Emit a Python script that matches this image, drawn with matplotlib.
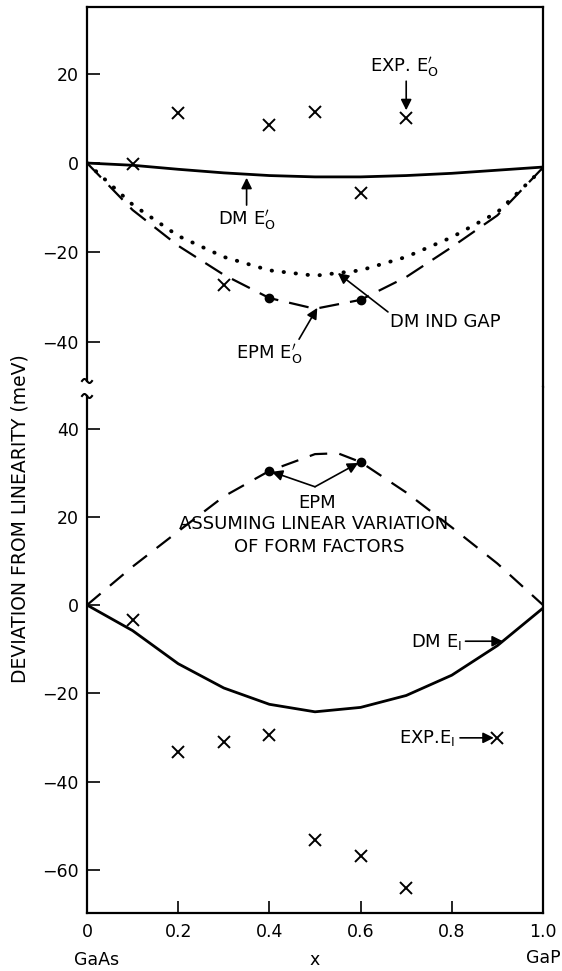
import matplotlib.pyplot as plt
import numpy as np

# composition x (GaAs -> GaP)
x = [0, 0.1, 0.2, 0.3, 0.4, 0.5, 0.6, 0.7, 0.8, 0.9, 1.0]

# upper panel: E0' gap deviations (meV)
dm_e0 = [0, -0.5, -1.4, -2.2, -2.8, -3.1, -3.1, -2.8, -2.3, -1.6, -0.9]
dm_ind_gap = [0, -9.3, -16.3, -21, -24, -25.2, -24, -21, -16.6, -11, -1.2]
epm_e0 = [0, -10.5, -18.5, -25, -30.2, -32.6, -30.6, -25.5, -18.8, -11.7, -1.0]
epm_e0_pts_x = [0.4, 0.6]
epm_e0_pts_y = [-30.2, -30.6]
exp_e0_x = [0.1, 0.2, 0.3, 0.4, 0.5, 0.6, 0.7]
exp_e0_y = [-0.3, 11.2, -27.3, 8.5, 11.4, -6.7, 10.0]

# lower panel: E1 deviations (meV)
dm_e1 = [0, -5.8, -13.3, -18.8, -22.5, -24.2, -23.2, -20.5, -15.9, -9.2, -0.7]
x_epm_lin = [0, 0.1, 0.2, 0.3, 0.4, 0.5, 0.55, 0.6, 0.7, 0.8, 0.9, 1.0]
epm_lin = [0, 8.7, 16.7, 24.6, 30.4, 34.2, 34.4, 32.4, 25.5, 17.6, 9.4, 0]
epm_lin_pts_x = [0.4, 0.6]
epm_lin_pts_y = [30.4, 32.4]
exp_e1_x = [0.1, 0.2, 0.3, 0.4, 0.5, 0.6, 0.7, 0.9]
exp_e1_y = [-3.4, -33.3, -31.1, -29.5, -53.2, -56.8, -64.1, -30.1]

plt.rcParams['font.family'] = 'DejaVu Sans'
fig = plt.figure(figsize=(5.62, 9.71), dpi=100)
ax1 = fig.add_axes([0.1548, 0.6014, 0.8114, 0.3914])
ax2 = fig.add_axes([0.1548, 0.0597, 0.8114, 0.5417])

for ax in (ax1, ax2):
    ax.set_xlim(0, 1.0)
    for s in ax.spines.values():
        s.set_linewidth(1.6)
    ax.tick_params(axis='y', direction='in', length=9, width=1.2, pad=6,
                   labelsize=12.5, right=False)
    ax.tick_params(axis='x', direction='in', length=9, width=1.2, pad=7,
                   labelsize=12.5, top=False)

ax1.set_ylim(-50.1, 34.9)
ax1.set_yticks([20, 0, -20, -40])
ax1.tick_params(axis='x', bottom=False, labelbottom=False)
ax1.spines['bottom'].set_visible(False)
ax1.spines['left'].set_bounds(-48.7, 34.9)

ax2.set_ylim(-69.8, 49.4)
ax2.set_yticks([40, 20, 0, -20, -40, -60])
ax2.set_xticks([0, 0.2, 0.4, 0.6, 0.8, 1.0])
ax2.set_xticklabels(['0', '0.2', '0.4', '0.6', '0.8', '1.0'])
ax2.spines['top'].set_visible(False)
ax2.spines['left'].set_bounds(-69.8, 47.3)

# break marks on left spine
t = np.linspace(-1, 1, 30)
for ypix in (381, 396):
    fig.add_artist(plt.Line2D((87 + 5 * t) / 562, 1 - (ypix + 2 * np.sin(np.pi * t)) / 971,
                              color='k', lw=1.5, transform=fig.transFigure))

# upper panel curves
ax1.plot(x, dm_e0, color='k', lw=2.0)
ax1.plot(x, dm_ind_gap, color='k', lw=2.8, linestyle=(0, (0.1, 3.0)),
         dash_capstyle='round')
ax1.plot(x, epm_e0, color='k', lw=1.6, linestyle=(0, (9, 5)))
ax1.plot(epm_e0_pts_x, epm_e0_pts_y, 'ko', ms=6)
ax1.plot(exp_e0_x, exp_e0_y, 'kx', ms=8, mew=1.4)

arrow = dict(arrowstyle='-|>', color='k', lw=1.2, mutation_scale=16,
             shrinkA=0, shrinkB=0)
fs = 13
ax1.text(0.62, 21.5, r"EXP. E$_{\mathsf{O}}^{\prime}$", fontsize=fs,
         ha='left', va='center')
ax1.annotate('', xy=(0.70, 11.8), xytext=(0.70, 18.3), arrowprops=arrow)
ax1.text(0.35, -12.8, r"DM E$_{\mathsf{O}}^{\prime}$", fontsize=fs,
         ha='center', va='center')
ax1.annotate('', xy=(0.35, -3.3), xytext=(0.35, -9.4), arrowprops=arrow)
ax1.text(0.665, -35.5, "DM IND GAP", fontsize=fs, ha='left', va='center')
ax1.annotate('', xy=(0.55, -24.6), xytext=(0.66, -33.3), arrowprops=arrow)
ax1.text(0.40, -42.8, r"EPM E$_{\mathsf{O}}^{\prime}$", fontsize=fs,
         ha='center', va='center')
ax1.annotate('', xy=(0.505, -32.4), xytext=(0.465, -39.4), arrowprops=arrow)

# lower panel curves
ax2.plot(x, dm_e1, color='k', lw=2.0)
ax2.plot(x_epm_lin, epm_lin, color='k', lw=1.6, linestyle=(0, (8, 5.5)))
ax2.plot(epm_lin_pts_x, epm_lin_pts_y, 'ko', ms=6)
ax2.plot(exp_e1_x, exp_e1_y, 'kx', ms=8, mew=1.4)

ax2.text(0.505, 23.1, "EPM", fontsize=fs, ha='center', va='center')
ax2.text(0.497, 18.3, "ASSUMING LINEAR VARIATION", fontsize=fs,
         ha='center', va='center')
ax2.text(0.51, 13.1, "OF FORM FACTORS", fontsize=fs, ha='center', va='center')
ax2.annotate('', xy=(0.405, 30.2), xytext=(0.50, 26.8), arrowprops=arrow)
ax2.annotate('', xy=(0.595, 32.2), xytext=(0.50, 26.8), arrowprops=arrow)
ax2.text(0.822, -8.4, r"DM E$_{\mathsf{I}}$", fontsize=fs, ha='right',
         va='center')
ax2.annotate('', xy=(0.912, -8.2), xytext=(0.83, -8.2), arrowprops=arrow)
ax2.text(0.808, -30.1, r"EXP.E$_{\mathsf{I}}$", fontsize=fs, ha='right',
         va='center')
ax2.annotate('', xy=(0.892, -30.1), xytext=(0.818, -30.1), arrowprops=arrow)

# composition end labels and axis labels
bt = ax2.get_xaxis_transform()
ax2.text(0.02, -0.09, "GaAs", transform=bt, fontsize=12.5, ha='center', va='center')
ax2.text(0.5, -0.09, "x", transform=bt, fontsize=12.5, ha='center', va='center')
ax2.text(1.0, -0.085, "GaP", transform=bt, fontsize=12.5, ha='center', va='center')
fig.text(0.036, 1 - 519 / 971, "DEVIATION FROM LINEARITY (meV)", rotation=90,
         fontsize=13.5, ha='center', va='center')

fig.savefig('out.png', dpi=100)
